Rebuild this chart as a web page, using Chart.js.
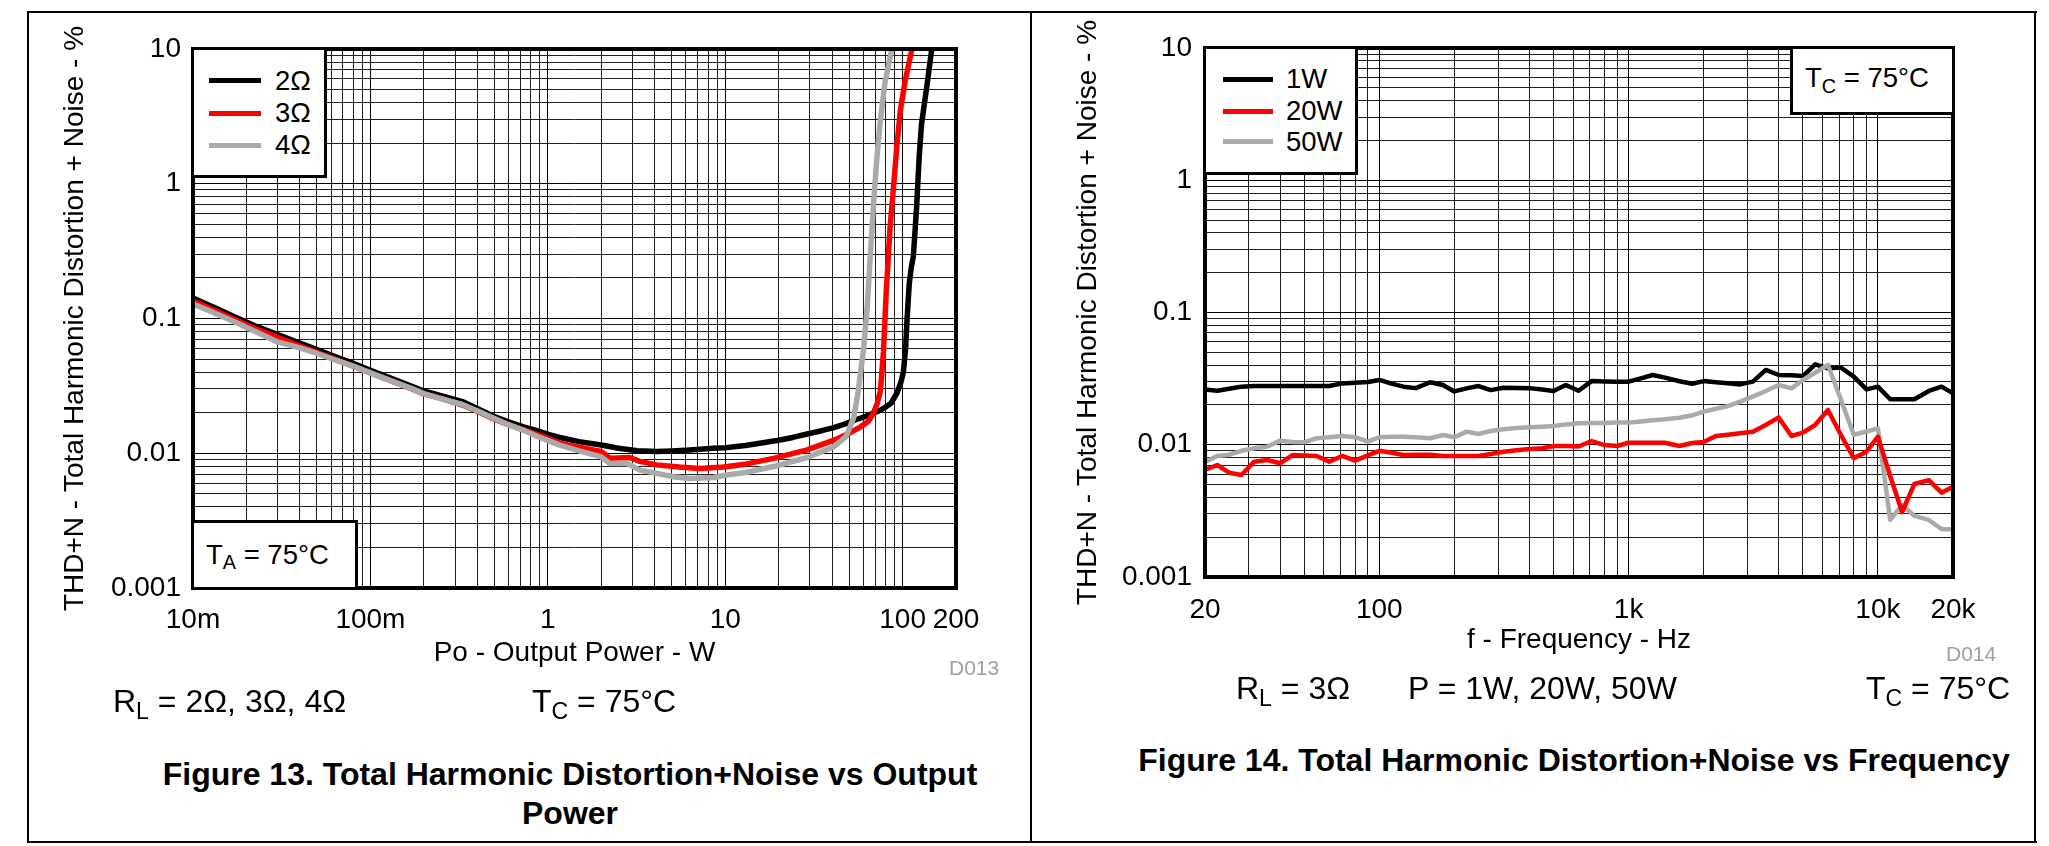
<!DOCTYPE html>
<html><head><meta charset="utf-8">
<script src="https://cdn.jsdelivr.net/npm/chart.js@4.4.1/dist/chart.umd.min.js"></script>
<style>
html,body{margin:0;padding:0;background:#fff;}
body{width:2049px;height:846px;position:relative;overflow:hidden;font-family:"Liberation Sans",Arial,Helvetica,sans-serif;color:#000;}
.ln{position:absolute;background:#000;}
.t{position:absolute;white-space:nowrap;line-height:40px;height:40px;}
.box{position:absolute;background:#fff;border:3px solid #000;box-sizing:border-box;}
.sw{position:absolute;height:5px;}
.s{font-size:0.72em;position:relative;top:0.3em;}
canvas{position:absolute;}
.cap{position:absolute;font-weight:bold;font-size:32px;white-space:nowrap;text-align:center;line-height:40px;}
</style></head>
<body>
<!-- page frame -->
<div class="ln" style="left:27px;top:11px;width:2010px;height:2px"></div>
<div class="ln" style="left:27px;top:11px;width:2px;height:832px"></div>
<div class="ln" style="left:1030px;top:11px;width:2px;height:832px"></div>
<div class="ln" style="left:2034px;top:11px;width:2px;height:832px"></div>
<div class="ln" style="left:27px;top:841px;width:2010px;height:2px"></div>

<canvas id="c1" width="1030" height="700" style="left:0;top:0;width:1030px;height:700px"></canvas>
<canvas id="c2" width="1005" height="700" style="left:1031px;top:0;width:1005px;height:700px"></canvas>

<!-- chart 1 overlays -->
<div class="box" style="left:191px;top:47px;width:136px;height:131px"></div>
<div class="sw" style="left:209px;top:78px;width:52px;background:#000"></div>
<div class="sw" style="left:209px;top:110.5px;width:52px;background:#ff0000"></div>
<div class="sw" style="left:209px;top:142.5px;width:52px;background:#aaaaaa"></div>
<div class="t" id="l1a" style="left:275px;top:60.5px;font-size:27.5px"></div>
<div class="t" id="l1b" style="left:275px;top:93px;font-size:27.5px"></div>
<div class="t" id="l1c" style="left:275px;top:125px;font-size:27.5px"></div>
<div class="box" style="left:191px;top:520px;width:167px;height:70px"></div>
<div class="t" style="left:206px;top:534.5px;font-size:27.5px">T<span class="s">A</span> = 75°C</div>
<div class="t" style="left:949px;top:647.5px;font-size:21px;color:#a0a0a0">D013</div>
<div class="t" style="left:113px;top:681px;font-size:32px">R<span class="s">L</span> = 2Ω, 3Ω, 4Ω</div>
<div class="t" style="left:532px;top:681px;font-size:32px">T<span class="s">C</span> = 75°C</div>
<div class="cap" style="left:70px;width:1000px;top:754px">Figure 13. Total Harmonic Distortion+Noise vs Output</div>
<div class="cap" style="left:70px;width:1000px;top:792.5px">Power</div>

<!-- chart 2 overlays -->
<div class="box" style="left:1203px;top:46px;width:155px;height:129px"></div>
<div class="sw" style="left:1223px;top:76.5px;width:50px;background:#000"></div>
<div class="sw" style="left:1223px;top:108.5px;width:50px;background:#ff0000"></div>
<div class="sw" style="left:1223px;top:139px;width:50px;background:#aaaaaa"></div>
<div class="t" id="l2a" style="left:1286px;top:59px;font-size:27.5px"></div>
<div class="t" id="l2b" style="left:1286px;top:90.5px;font-size:27.5px"></div>
<div class="t" id="l2c" style="left:1286px;top:121.5px;font-size:27.5px"></div>
<div class="box" style="left:1790px;top:46px;width:165px;height:69px"></div>
<div class="t" style="left:1805px;top:58px;font-size:27.5px">T<span class="s">C</span> = 75°C</div>
<div class="t" style="left:1946px;top:634px;font-size:21px;color:#a0a0a0">D014</div>
<div class="t" style="left:1236px;top:668px;font-size:32px">R<span class="s">L</span> = 3Ω</div>
<div class="t" style="left:1408px;top:668px;font-size:32px">P = 1W, 20W, 50W</div>
<div class="t" style="left:1866px;top:668px;font-size:32px">T<span class="s">C</span> = 75°C</div>
<div class="cap" style="left:1074px;width:1000px;top:740px">Figure 14. Total Harmonic Distortion+Noise vs Frequency</div>

<script>
// ---------------- data: Figure 13 (THD+N vs output power) ----------------
const series13 = ['2Ω', '3Ω', '4Ω'];
const colors = ['#000000', '#ff0000', '#aaaaaa'];

const power2 = [0.01, 0.013, 0.017, 0.022, 0.03, 0.04, 0.05, 0.06, 0.08, 0.1, 0.13, 0.17, 0.2, 0.25, 0.33, 0.4, 0.5, 0.6, 0.73, 0.9, 1.03, 1.17, 1.5, 2.0, 2.5, 3.2, 4.1, 5.0, 6.3, 8.6, 10, 13, 16, 20, 24, 29, 35, 41, 48, 55, 62, 68, 74, 78, 86, 93, 98, 101, 104, 106, 109, 112, 115, 120, 124, 128, 137, 146];
const thd2   = [0.142, 0.1215, 0.1035, 0.089, 0.076, 0.0657, 0.0588, 0.0536, 0.0464, 0.0413, 0.0362, 0.0315, 0.029, 0.0268, 0.0242, 0.0215, 0.0187, 0.0171, 0.0157, 0.0145, 0.0137, 0.0131, 0.0122, 0.0115, 0.0109, 0.01045, 0.0103, 0.0104, 0.01057, 0.0109, 0.011, 0.0114, 0.0119, 0.0125, 0.0131, 0.0139, 0.0147, 0.0155, 0.0166, 0.0178, 0.0188, 0.0198, 0.0207, 0.0215, 0.0235, 0.028, 0.034, 0.040, 0.06, 0.1, 0.18, 0.24, 0.29, 0.676, 1.585, 2.8, 5.3, 10];

const power3 = [0.01, 0.013, 0.017, 0.022, 0.03, 0.04, 0.05, 0.06, 0.08, 0.1, 0.13, 0.17, 0.2, 0.25, 0.33, 0.4, 0.5, 0.6, 0.73, 0.9, 1.17, 1.5, 2.0, 2.24, 2.9, 3.3, 4.1, 5.5, 7.2, 9.8, 13, 19, 29, 41, 50, 58, 64, 68, 72, 75, 78, 81, 85, 89, 93, 97, 103, 113];
const thd3   = [0.135, 0.116, 0.099, 0.085, 0.0725, 0.0625, 0.056, 0.051, 0.0443, 0.0395, 0.0346, 0.0301, 0.0276, 0.0255, 0.0228, 0.0205, 0.0179, 0.0163, 0.0149, 0.0136, 0.0119, 0.0111, 0.0103, 0.0092, 0.0093, 0.0087, 0.0082, 0.0079, 0.0077, 0.0079, 0.0083, 0.0092, 0.0106, 0.0125, 0.0141, 0.0157, 0.0172, 0.0195, 0.0235, 0.029, 0.0567, 0.164, 0.475, 0.966, 1.96, 3.45, 5.67, 10];

const power4 = [0.01, 0.013, 0.017, 0.022, 0.03, 0.04, 0.05, 0.06, 0.08, 0.1, 0.13, 0.17, 0.2, 0.25, 0.33, 0.4, 0.5, 0.6, 0.73, 0.9, 1.17, 1.5, 2.0, 2.24, 2.8, 3.3, 4.1, 5.1, 6.3, 8.6, 10.2, 13, 19, 29, 41, 48, 53, 56, 60, 63, 65.5, 68.4, 71.4, 74.6, 79.6, 87];
const thd4   = [0.128, 0.111, 0.095, 0.081, 0.067, 0.0605, 0.055, 0.0505, 0.0443, 0.0395, 0.0346, 0.0303, 0.0277, 0.0254, 0.023, 0.0207, 0.0181, 0.0163, 0.0148, 0.0131, 0.0115, 0.0104, 0.0094, 0.0084, 0.0084, 0.0075, 0.0071, 0.0067, 0.0065, 0.0066, 0.0069, 0.0072, 0.0080, 0.0093, 0.0112, 0.0133, 0.0183, 0.0279, 0.0567, 0.115, 0.27, 0.676, 1.48, 2.8, 5.67, 10];

// ---------------- data: Figure 14 (THD+N vs frequency) ----------------
const series14 = ['1W', '20W', '50W'];
const freq = [20, 22.4, 25, 28, 31.5, 35.5, 40, 45, 50, 56, 63, 71, 80, 90, 100, 112, 125, 140, 160, 180, 200, 224, 250, 280, 315, 355, 400, 450, 500, 560, 630, 710, 800, 900, 1000, 1120, 1250, 1400, 1600, 1800, 2000, 2240, 2500, 2800, 3150, 3550, 4000, 4500, 5000, 5600, 6300, 7100, 8000, 9000, 10000, 11200, 12500, 14000, 16000, 18000, 20000];
const thd1W  = [0.0262, 0.0256, 0.0265, 0.0275, 0.0278, 0.0278, 0.0278, 0.0278, 0.0278, 0.0278, 0.0278, 0.0291, 0.0294, 0.0298, 0.0309, 0.029, 0.0275, 0.0268, 0.0297, 0.0283, 0.0253, 0.0267, 0.0278, 0.0259, 0.027, 0.0269, 0.0268, 0.0262, 0.0255, 0.0283, 0.0256, 0.0303, 0.0301, 0.03, 0.03, 0.0318, 0.0337, 0.0322, 0.0302, 0.0289, 0.0303, 0.0297, 0.0292, 0.0286, 0.03, 0.0368, 0.0337, 0.0335, 0.0331, 0.0406, 0.0378, 0.0384, 0.0327, 0.0262, 0.0275, 0.0221, 0.0221, 0.0221, 0.0255, 0.0275, 0.0245];
const thd20W = [0.00644, 0.00703, 0.00615, 0.00591, 0.00745, 0.00767, 0.00724, 0.00837, 0.0083, 0.00823, 0.00745, 0.00823, 0.00758, 0.0083, 0.009, 0.0087, 0.00837, 0.0084, 0.0084, 0.00823, 0.00823, 0.00823, 0.00823, 0.0085, 0.00886, 0.0091, 0.0093, 0.0094, 0.00978, 0.00978, 0.0097, 0.01067, 0.00995, 0.00978, 0.01035, 0.01035, 0.01035, 0.01035, 0.00978, 0.0103, 0.0105, 0.01164, 0.0119, 0.0122, 0.01256, 0.0141, 0.0161, 0.01164, 0.01234, 0.0141, 0.0183, 0.0119, 0.0079, 0.00886, 0.0115, 0.0058, 0.0031, 0.00505, 0.0054, 0.00434, 0.00482];
const thd50W = [0.0074, 0.00823, 0.0084, 0.009, 0.0094, 0.00967, 0.01074, 0.0105, 0.01043, 0.0112, 0.0114, 0.01164, 0.0114, 0.01055, 0.0114, 0.0115, 0.0115, 0.0114, 0.0112, 0.01185, 0.0114, 0.01256, 0.01206, 0.0127, 0.0131, 0.0134, 0.01355, 0.0137, 0.01386, 0.0142, 0.01453, 0.0146, 0.0146, 0.0147, 0.0147, 0.015, 0.0153, 0.01557, 0.016, 0.0167, 0.0178, 0.0187, 0.0196, 0.0212, 0.0231, 0.0255, 0.0283, 0.0267, 0.0309, 0.035, 0.0401, 0.022, 0.0119, 0.0126, 0.0133, 0.0027, 0.0035, 0.0029, 0.0027, 0.0023, 0.0023];

// ---------------- axes / tick labels ----------------
const yTickValues = [0.001, 0.01, 0.1, 1, 10];
const yTickLabels = ['0.001', '0.01', '0.1', '1', '10'];
const x13TickValues = [0.01, 0.1, 1, 10, 100, 200];
const x13TickLabels = ['10m', '100m', '1', '10', '100', '200'];
const x14TickValues = [20, 100, 1000, 10000, 20000];
const x14TickLabels = ['20', '100', '1k', '10k', '20k'];

const FONT = '"Liberation Sans", Arial, Helvetica, sans-serif';

function near(a, b) { return Math.abs(a - b) <= Math.abs(b) * 1e-6; }
function gridValues(min, max, extra) {
  const out = [];
  for (let e = Math.floor(Math.log10(min)) - 1; e <= Math.ceil(Math.log10(max)); e++) {
    for (let m = 1; m <= 9; m++) {
      const v = parseFloat((m * Math.pow(10, e)).toPrecision(6));
      if (v >= min * 0.9999 && v <= max * 1.0001) out.push(v);
    }
  }
  extra.forEach(v => { if (!out.some(o => near(o, v))) out.push(v); });
  return out.sort((a, b) => a - b);
}
function isDecade(v) { const l = Math.log10(v); return Math.abs(l - Math.round(l)) < 1e-6; }

function logAxis(o) {
  return {
    type: 'logarithmic',
    position: o.isX ? 'bottom' : 'left',
    min: o.min, max: o.max,
    afterBuildTicks: s => {
      s.ticks = gridValues(o.min, o.max, o.tickValues).map(v => ({ value: v }));
    },
    afterFit: s => {
      if (o.isX) { s.height = o.size; s.paddingLeft = 0; s.paddingRight = 0; }
      else { s.width = o.size; s.paddingTop = 0; s.paddingBottom = 0; }
    },
    ticks: {
      autoSkip: false, maxRotation: 0, minRotation: 0,
      padding: o.tickPad, color: '#000',
      font: { family: FONT, size: 28 },
      callback: v => {
        const i = o.tickValues.findIndex(t => near(v, t));
        return i >= 0 ? o.tickLabels[i] : '';
      }
    },
    grid: {
      drawTicks: false,
      color: c => isDecade(c.tick.value) ? '#000000' : '#1e1e1e',
      lineWidth: 1
    },
    border: { display: false },
    title: {
      display: true, text: o.title, color: '#000',
      font: { family: FONT, size: 28 },
      padding: o.isX ? { top: 0, bottom: o.titlePad } : { top: o.titlePad, bottom: 0 }
    }
  };
}

const framePlugin = {
  id: 'frame',
  afterDatasetsDraw(chart) {
    const { ctx, chartArea: a } = chart;
    ctx.save();
    ctx.lineWidth = 4;
    ctx.strokeStyle = '#000';
    ctx.strokeRect(a.left, a.top, a.right - a.left, a.bottom - a.top);
    ctx.restore();
  }
};

function ds(label, xs, ys, color, width, order) {
  return {
    label, data: xs.map((x, i) => ({ x, y: ys[i] })),
    borderColor: color, backgroundColor: color, borderWidth: width,
    pointRadius: 0, pointHoverRadius: 0, fill: false, tension: 0, clip: 0,
    borderJoinStyle: 'round', borderCapStyle: 'butt', order
  };
}

function baseOptions(padding, xAxis, yAxis) {
  return {
    responsive: false, animation: false, devicePixelRatio: 1,
    layout: { padding },
    plugins: { legend: { display: false }, tooltip: { enabled: false } },
    events: [],
    scales: { x: xAxis, y: yAxis }
  };
}

// Figure 13
new Chart(document.getElementById('c1'), {
  type: 'line',
  data: {
    datasets: [
      ds(series13[0], power2, thd2, colors[0], 5.5, 3),
      ds(series13[1], power3, thd3, colors[1], 5.5, 2),
      ds(series13[2], power4, thd4, colors[2], 5.5, 1)
    ]
  },
  options: baseOptions({ left: 0, top: 49, right: 74, bottom: 0 },
    logAxis({ isX: true, min: 0.01, max: 200, tickValues: x13TickValues, tickLabels: x13TickLabels, size: 112, tickPad: 15.8, title: 'Po - Output Power - W', titlePad: 30 }),
    logAxis({ isX: false, min: 0.001, max: 10, tickValues: yTickValues, tickLabels: yTickLabels, size: 193, tickPad: 12, title: 'THD+N - Total Harmonic Distortion + Noise - %', titlePad: 58.7 })
  ),
  plugins: [framePlugin]
});

// Figure 14
new Chart(document.getElementById('c2'), {
  type: 'line',
  data: {
    datasets: [
      ds(series14[0], freq, thd1W, colors[0], 4.5, 3),
      ds(series14[1], freq, thd20W, colors[1], 4.5, 1),
      ds(series14[2], freq, thd50W, colors[2], 4.5, 2)
    ]
  },
  options: baseOptions({ left: 0, top: 48, right: 83, bottom: 0 },
    logAxis({ isX: true, min: 20, max: 20000, tickValues: x14TickValues, tickLabels: x14TickLabels, size: 123, tickPad: 16, title: 'f - Frequency - Hz', titlePad: 42.6 }),
    logAxis({ isX: false, min: 0.001, max: 10, tickValues: yTickValues, tickLabels: yTickLabels, size: 174, tickPad: 13, title: 'THD+N - Total Harmonic Distortion + Noise - %', titlePad: 40.7 })
  ),
  plugins: [framePlugin]
});

// legend texts
document.getElementById('l1a').textContent = series13[0];
document.getElementById('l1b').textContent = series13[1];
document.getElementById('l1c').textContent = series13[2];
document.getElementById('l2a').textContent = series14[0];
document.getElementById('l2b').textContent = series14[1];
document.getElementById('l2c').textContent = series14[2];
</script>
</body></html>
